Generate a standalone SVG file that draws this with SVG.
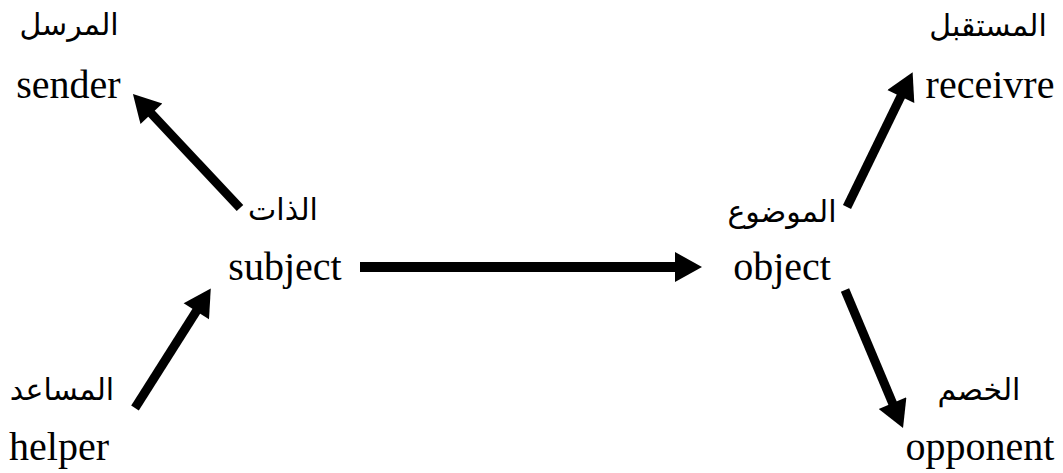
<svg xmlns="http://www.w3.org/2000/svg" width="1063" height="473" viewBox="0 0 1063 473">
<style>
.en{font-family:"Liberation Serif","Times New Roman",serif;font-size:40px;fill:#000;text-anchor:middle}
.ar{font-family:"Liberation Serif","DejaVu Sans",serif;font-size:30px;fill:#000;text-anchor:middle}
.c{stroke:#000;stroke-width:9;fill:none;marker-end:url(#ah)}
</style>
<defs>
<marker id="ah" markerUnits="userSpaceOnUse" markerWidth="30" markerHeight="30" viewBox="0 0 27 30" refX="5" refY="15" orient="auto">
<path d="M0,0 L27,15 L0,30 Z" fill="#000"/>
</marker>
</defs>
<rect width="1063" height="473" fill="#fff"/>
<g id="connectors">
<line class="c" x1="360" y1="267" x2="680" y2="267" style="stroke-width:10"/>
<line class="c" x1="240" y1="208" x2="148" y2="110"/>
<line class="c" x1="135" y1="408" x2="199" y2="307"/>
<line class="c" x1="847" y1="207" x2="903" y2="92"/>
<line class="c" x1="845" y1="290" x2="894.5" y2="407.7"/>
</g>
<g id="sender"><text class="ar" x="69" y="35">المرسل</text><text class="en" x="68.5" y="98">sender</text></g>
<g id="receiver"><text class="ar" x="988" y="36">المستقبل</text><text class="en" x="990" y="98">receivre</text></g>
<g id="subject"><text class="ar" x="283" y="220">الذات</text><text class="en" x="285" y="280">subject</text></g>
<g id="object"><text class="ar" x="782" y="222">الموضوع</text><text class="en" x="782" y="280">object</text></g>
<g id="helper"><text class="ar" x="62" y="400">المساعد</text><text class="en" x="59" y="460">helper</text></g>
<g id="opponent"><text class="ar" x="979" y="400">الخصم</text><text class="en" x="980" y="460">opponent</text></g>
</svg>
